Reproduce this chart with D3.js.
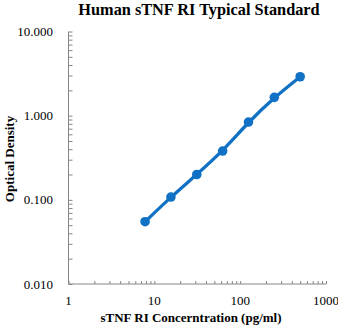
<!DOCTYPE html>
<html>
<head>
<meta charset="utf-8">
<script src="https://cdn.jsdelivr.net/npm/d3@7"></script>
<style>
  html, body { margin: 0; padding: 0; background: #fff; }
  svg { display: block; }
  text { font-family: "Liberation Serif", "Times New Roman", serif; fill: #000; }
</style>
</head>
<body>
<svg id="chart" width="338" height="326"></svg>
<script>
// Standard curve: concentration (pg/ml) vs optical density
const concentrations = [7.8, 15.6, 31.25, 62.5, 125, 250, 500];
const densities = [0.055, 0.108, 0.2, 0.38, 0.84, 1.65, 2.9];
const xTickValues = [1, 10, 100, 1000];
const yTickValues = [0.01, 0.1, 1, 10];

const title = "Human sTNF RI Typical Standard";
const xTitle = "sTNF RI Concerntration (pg/ml)";
const yTitle = "Optical Density";

const svg = d3.select("#chart");
const axisColor = "#868686";
const seriesColor = "#1171c4";

const x = d3.scaleLog().domain([1, 1000]).range([68.5, 326]);
const y = d3.scaleLog().domain([0.01, 10]).range([284, 31.5]);

// minor + major tick positions for each decade
function logTicks(domain) {
  const out = [];
  for (let p = Math.log10(domain[0]); p < Math.log10(domain[1]); p++) {
    for (let m = 1; m < 10; m++) out.push(m * Math.pow(10, p));
  }
  out.push(domain[1]);
  return out;
}

// Y axis: ticks point inward (right)
const yAxis = svg.append("g").attr("transform", "translate(68.5,0)")
  .call(d3.axisRight(y).tickValues(logTicks([0.01, 10])).tickSize(4).tickFormat(""));
yAxis.select(".domain").attr("stroke", axisColor).attr("stroke-width", 1).attr("d", `M0,${y(10)}V${y(0.01)}`);
yAxis.selectAll(".tick line").attr("stroke", axisColor);

svg.append("g").selectAll("text").data(yTickValues).join("text")
  .attr("x", 53).attr("y", d => y(d)).attr("dy", "0.35em")
  .attr("text-anchor", "end").attr("font-size", 13)
  .text(d => d3.format(".3f")(d));

// X axis: ticks point inward (up)
const xAxis = svg.append("g").attr("transform", "translate(0,284)")
  .call(d3.axisTop(x).tickValues(logTicks([1, 1000])).tickSize(3).tickFormat(""));
xAxis.select(".domain").attr("stroke", axisColor).attr("stroke-width", 1).attr("d", `M${x(1)},0H${x(1000)}`);
xAxis.selectAll(".tick line").attr("stroke", axisColor);

svg.append("g").selectAll("text").data(xTickValues).join("text")
  .attr("x", d => x(d)).attr("y", 305)
  .attr("text-anchor", "middle").attr("font-size", 13)
  .text(d => d3.format("d")(d));

// Titles
svg.append("text").attr("x", 199).attr("y", 15)
  .attr("text-anchor", "middle").attr("font-size", 16.3).attr("font-weight", "bold")
  .text(title);

svg.append("text").attr("x", 191).attr("y", 322)
  .attr("text-anchor", "middle").attr("font-size", 13).attr("font-weight", "bold")
  .text(xTitle);

svg.append("text").attr("transform", "translate(14,159) rotate(-90)")
  .attr("text-anchor", "middle").attr("font-size", 13).attr("font-weight", "bold")
  .text(yTitle);

// Series
const pts = concentrations.map((c, i) => [c, densities[i]]);
svg.append("path").datum(pts)
  .attr("fill", "none").attr("stroke", seriesColor).attr("stroke-width", 3.3)
  .attr("stroke-linecap", "round")
  .attr("d", d3.line().x(d => x(d[0])).y(d => y(d[1])).curve(d3.curveBasis));

svg.append("g").selectAll("circle").data(pts).join("circle")
  .attr("cx", d => x(d[0])).attr("cy", d => y(d[1])).attr("r", 4.8)
  .attr("fill", seriesColor);
</script>
</body>
</html>
